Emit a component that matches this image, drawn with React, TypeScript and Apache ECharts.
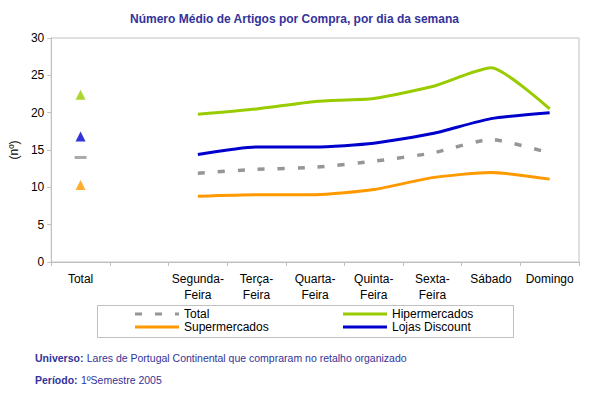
import React, { useEffect, useRef } from "react";
import * as echarts from "echarts";

const categories = [
  "Total",
  "",
  "Segunda-\nFeira",
  "Terça-\nFeira",
  "Quarta-\nFeira",
  "Quinta-\nFeira",
  "Sexta-\nFeira",
  "Sábado",
  "Domingo",
];

const seriesNames = ["Total", "Hipermercados", "Supermercados", "Lojas Discount"];

// Values per weekday (Segunda .. Domingo)
const totalDays = [11.9, 12.4, 12.7, 13.5, 14.6, 16.4, 14.6];
const hiperDays = [19.8, 20.5, 21.5, 21.9, 23.5, 26.0, 20.5];
const superDays = [8.8, 9.0, 9.0, 9.7, 11.3, 12.0, 11.1];
const lojasDays = [14.4, 15.4, 15.4, 15.9, 17.2, 19.2, 20.0];

// Overall value shown in the "Total" category
const totalOverall = [14.0, 22.4, 10.3, 16.8];

const colors = ["#969696", "#99CC00", "#FF9900", "#0000CC"];

const yTicks = { min: 0, max: 30, interval: 5 };

const FONT = "'Liberation Sans', Arial, sans-serif";

export default function App() {
  const ref = useRef<HTMLDivElement>(null);

  useEffect(() => {
    if (!ref.current) return;
    const chart = echarts.init(ref.current, null, { renderer: "svg" });

    const dayData = [totalDays, hiperDays, superDays, lojasDays];

    const lineSeries = seriesNames.map((name, i) => ({
      name,
      type: "line",
      smooth: 0.2,
      symbol: "none",
      data: ["-", "-", ...dayData[i]],
      lineStyle: {
        color: colors[i],
        width: i === 0 ? 3.5 : 3,
        type: i === 0 ? [7, 13] : "solid",
        cap: "butt",
      },
      itemStyle: { color: colors[i] },
      z: i === 0 ? 3 : 2,
    }));

    const scatterSeries = seriesNames.map((name, i) => ({
      name: name + " (total)",
      type: "scatter",
      symbol: i === 0 ? "rect" : "triangle",
      symbolSize: i === 0 ? [12, 3] : [10, 10],
      data: [totalOverall[i], "-", "-", "-", "-", "-", "-", "-", "-"],
      itemStyle: { color: colors[i] },
      z: 4,
    }));

    const legendText = { fontFamily: FONT, fontSize: 12, color: "#000", lineHeight: 12 };

    chart.setOption({
      animation: false,
      backgroundColor: "#fff",
      title: {
        text: "Número Médio de Artigos por Compra, por dia da semana",
        left: "center",
        top: 8,
        textStyle: { fontFamily: FONT, fontSize: 12, fontWeight: "bold", color: "#333399" },
      },
      grid: {
        left: 49,
        right: 10,
        top: 38,
        bottom: 131,
        show: true,
        borderColor: "#C0C0C0",
        borderWidth: 1,
        backgroundColor: "transparent",
      },
      legend: [
        {
          data: [
            {
              name: "Total",
              icon: "path://M0,0h7v3h-7z M20,0h7v3h-7z M40,0h4v3h-4z",
            },
            { name: "Supermercados", icon: "rect" },
          ],
          orient: "vertical",
          left: 135,
          top: 308,
          itemWidth: 44,
          itemHeight: 3,
          itemGap: 1,
          padding: 0,
          textStyle: legendText,
          selectedMode: false,
        },
        {
          data: [
            { name: "Hipermercados", icon: "rect" },
            { name: "Lojas Discount", icon: "rect" },
          ],
          orient: "vertical",
          left: 343,
          top: 308,
          itemWidth: 44,
          itemHeight: 3,
          itemGap: 1,
          padding: 0,
          textStyle: legendText,
          selectedMode: false,
        },
      ],
      xAxis: {
        type: "category",
        data: categories,
        boundaryGap: true,
        axisLine: { lineStyle: { color: "#C0C0C0" } },
        axisTick: { show: true, length: 4, lineStyle: { color: "#C0C0C0" } },
        axisLabel: {
          interval: 0,
          margin: 9,
          fontFamily: FONT,
          fontSize: 12,
          color: "#000",
          lineHeight: 16,
        },
        splitLine: { show: false },
      },
      yAxis: {
        type: "value",
        min: yTicks.min,
        max: yTicks.max,
        interval: yTicks.interval,
        name: "(nº)",
        nameLocation: "middle",
        nameGap: 30,
        nameRotate: 90,
        nameTextStyle: { fontFamily: FONT, fontSize: 12, color: "#000" },
        axisLine: { show: true, lineStyle: { color: "#C0C0C0" } },
        axisTick: { show: true, length: 4, lineStyle: { color: "#C0C0C0" } },
        axisLabel: { fontFamily: FONT, fontSize: 12, color: "#000", margin: 7 },
        splitLine: { show: false },
      },
      graphic: [
        {
          type: "rect",
          shape: { x: 97.5, y: 305.5, width: 416, height: 32 },
          style: { fill: "none", stroke: "#C0C0C0", lineWidth: 1 },
          z: 0,
        },
        {
          type: "text",
          x: 35,
          y: 358,
          style: {
            text: "{b|Universo:} {n|Lares de Portugal Continental que compraram no retalho organizado}",
            verticalAlign: "middle",
            rich: {
              b: { fontFamily: FONT, fontSize: 10.5, fontWeight: "bold", fill: "#333399" },
              n: { fontFamily: FONT, fontSize: 10.5, fill: "#333399" },
            },
          },
        },
        {
          type: "text",
          x: 35,
          y: 380,
          style: {
            text: "{b|Período:} {n|1ºSemestre 2005}",
            verticalAlign: "middle",
            rich: {
              b: { fontFamily: FONT, fontSize: 10.5, fontWeight: "bold", fill: "#333399" },
              n: { fontFamily: FONT, fontSize: 10.5, fill: "#333399" },
            },
          },
        },
      ],
      series: [...lineSeries, ...scatterSeries],
    });

    return () => chart.dispose();
  }, []);

  return (
    <div
      ref={ref}
      style={{ position: "fixed", left: 0, top: 0, width: 589, height: 393, background: "#fff" }}
    />
  );
}
